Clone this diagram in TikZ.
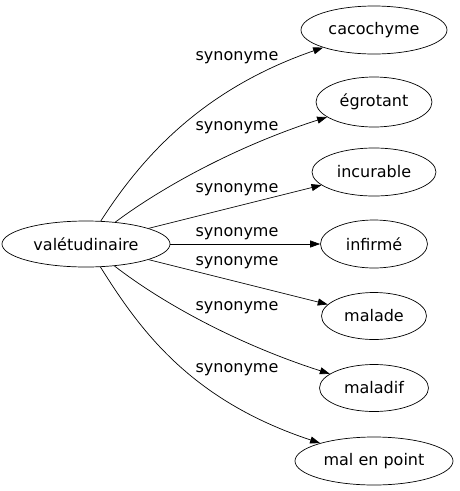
\documentclass[tikz,border=0pt]{standalone}
\usepackage{fontspec}
\setmainfont{DejaVu Sans}
\usetikzlibrary{shapes.geometric,arrows.meta}
\begin{document}
\begin{tikzpicture}[x=1pt,y=-1pt,
  word/.style={draw,ellipse,inner sep=0pt,line width=0.7pt,font=\fontsize{16}{19}\selectfont},
  lbl/.style={inner sep=0pt,font=\fontsize{16}{19}\selectfont},
  edge/.style={line width=0.7pt,-{Triangle[length=10pt,width=7pt]}}]
\useasboundingbox (0,0) rectangle (459,491);
\node[word,minimum width=168,minimum height=46] (v) at (86,244) {valétudinaire};
\node[word,minimum width=146,minimum height=48] (a) at (374,30) {cacochyme};
\node[word,minimum width=116,minimum height=50] (b) at (374,102) {égrotant};
\node[word,minimum width=124,minimum height=48] (c) at (374,172) {incurable};
\node[word,minimum width=107,minimum height=48] (d) at (374,244) {infirmé};
\node[word,minimum width=105,minimum height=47] (e) at (374,316) {malade};
\node[word,minimum width=109,minimum height=47] (f) at (374,388) {maladif};
\node[word,minimum width=158,minimum height=48] (g) at (374,461) {mal en point};
\node[lbl] (la) at (237,58) {synonyme};
\node[lbl] (lb) at (237,128) {synonyme};
\node[lbl] (lc) at (237,190) {synonyme};
\node[lbl] (ld) at (237,234) {synonyme};
\node[lbl] (le) at (237,263) {synonyme};
\node[lbl] (lf) at (237,308) {synonyme};
\node[lbl] (lg) at (237,370) {synonyme};
\draw[edge] (v) .. controls (140,160) and (200,90) .. (a);
\draw[edge] (v) .. controls (165,185) and (240,145) .. (b);
\draw[edge] (v) -- (c);
\draw[edge] (v) -- (d);
\draw[edge] (v) -- (e);
\draw[edge] (v) .. controls (165,305) and (240,345) .. (f);
\draw[edge] (v) .. controls (140,330) and (190,400) .. (g);
\end{tikzpicture}
\end{document}
